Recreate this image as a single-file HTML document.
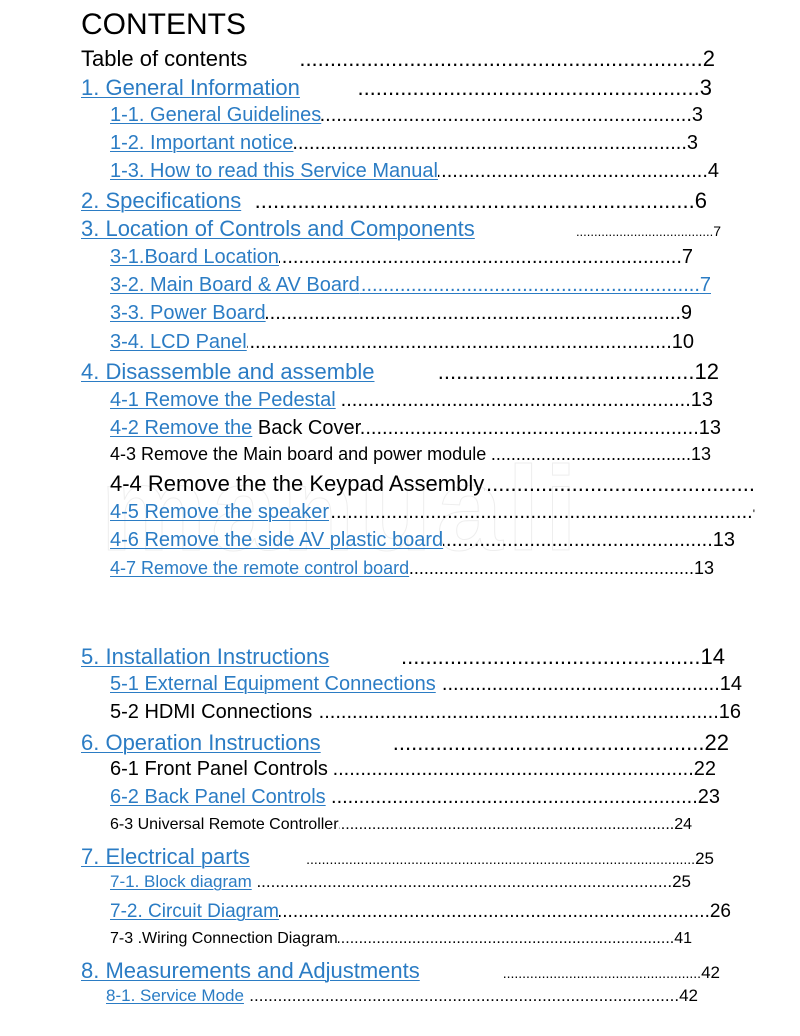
<!DOCTYPE html>
<html><head><meta charset="utf-8"><style>
html,body{margin:0;padding:0;background:#fff;}
body{width:800px;height:1036px;position:relative;overflow:hidden;font-family:"Liberation Sans",Arial,sans-serif;color:#000;}
.r{position:absolute;display:flex;align-items:baseline;white-space:nowrap;line-height:1.15;}
.r>span{flex:none;}
.b{color:#2b7cc4;text-decoration:underline;text-decoration-thickness:1px;text-underline-offset:2px;}
.r>.l{flex:1 1 0;min-width:0;overflow:hidden;direction:rtl;text-align:left;}
.w{display:inline-block;}
.wm{position:absolute;font-size:120px;color:transparent;-webkit-text-stroke:1px #eee;left:100px;top:440px;letter-spacing:4px;font-weight:bold;}
</style></head><body>
<div class="wm">manuali</div>
<div class="r" style="left:81px;top:8px;font-size:30px;">CONTENTS</div>

<div class="r" style="left:81px;top:46px;width:634px;font-size:22px;"><span class="w" style="width:217px">Table of contents</span><span class="l">........................................................................................................................</span><span>2</span></div>

<div class="r" style="left:81px;top:75px;width:631px;font-size:22px;"><span class="w" style="width:276px"><span class="b">1. General Information</span></span><span class="l">........................................................................................................................</span><span>3</span></div>

<div class="r" style="left:110px;top:104px;width:593px;font-size:20px;"><span class="b">1-1. General Guidelines</span><span class="l">........................................................................................................................</span><span>3</span></div>
<div class="r" style="left:110px;top:132px;width:588px;font-size:20px;"><span class="b">1-2. Important notice</span><span class="l">........................................................................................................................</span><span>3</span></div>
<div class="r" style="left:110px;top:160px;width:609px;font-size:20px;"><span class="b">1-3. How to read this Service Manual</span><span class="l">........................................................................................................................</span><span>4</span></div>

<div class="r" style="left:81px;top:188px;width:626px;font-size:22px;"><span class="w" style="width:174px"><span class="b">2. Specifications</span></span><span class="l">........................................................................................................................</span><span>6</span></div>
<div class="r" style="left:81px;top:216px;width:640px;font-size:22px;"><span class="w" style="width:494px"><span class="b">3. Location of Controls and Components</span></span><span class="l" style="font-size:13px">........................................................................................................................</span><span style="font-size:14px">7</span></div>

<div class="r" style="left:110px;top:246px;width:583px;font-size:20px;"><span class="b">3-1.Board Location</span><span class="l">........................................................................................................................</span><span>7</span></div>
<div class="r b" style="left:110px;top:274px;width:601px;font-size:20px;"><span>3-2. Main Board &amp; AV Board</span><span class="l">........................................................................................................................</span><span>7</span></div>
<div class="r" style="left:110px;top:302px;width:582px;font-size:20px;"><span class="b">3-3. Power Board</span><span class="l">........................................................................................................................</span><span>9</span></div>
<div class="r" style="left:110px;top:331px;width:584px;font-size:20px;"><span class="b">3-4. LCD Panel</span><span class="l">........................................................................................................................</span><span>10</span></div>

<div class="r" style="left:81px;top:359px;width:638px;font-size:22px;"><span class="w" style="width:356px"><span class="b">4. Disassemble and assemble</span></span><span class="l">........................................................................................................................</span><span>12</span></div>

<div class="r" style="left:110px;top:389px;width:603px;font-size:20px;"><span class="b">4-1 Remove the Pedestal</span><span>&nbsp;</span><span class="l">........................................................................................................................</span><span>13</span></div>
<div class="r" style="left:110px;top:417px;width:611px;font-size:20px;"><span><span class="b">4-2 Remove the</span> Back Cover</span><span class="l">........................................................................................................................</span><span>13</span></div>
<div class="r" style="left:110px;top:444px;width:601px;font-size:18px;"><span>4-3 Remove the Main board and power module&nbsp;</span><span class="l">........................................................................................................................</span><span>13</span></div>
<div class="r" style="left:110px;top:471px;width:645px;font-size:22px;"><span>4-4 Remove the the Keypad Assembly</span><span class="l">........................................................................................................................</span></div>
<div class="r" style="left:110px;top:501px;width:645px;font-size:20px;"><span class="b">4-5 Remove the speaker</span><span class="l">........................................................................................................................</span><span style="font-size:12px">'</span></div>
<div class="r" style="left:110px;top:529px;width:625px;font-size:20px;"><span class="b">4-6 Remove the side AV plastic board</span><span class="l">........................................................................................................................</span><span>13</span></div>
<div class="r" style="left:110px;top:558px;width:604px;font-size:18px;"><span class="b">4-7 Remove the remote control board</span><span class="l">........................................................................................................................</span><span>13</span></div>

<div class="r" style="left:81px;top:644px;width:644px;font-size:22px;"><span class="w" style="width:320px"><span class="b">5. Installation Instructions</span></span><span class="l">........................................................................................................................</span><span>14</span></div>
<div class="r" style="left:110px;top:673px;width:632px;font-size:20px;"><span class="b">5-1 External Equipment Connections</span><span>&nbsp;</span><span class="l">........................................................................................................................</span><span>14</span></div>
<div class="r" style="left:110px;top:701px;width:631px;font-size:20px;"><span>5-2 HDMI Connections&nbsp;</span><span class="l">........................................................................................................................</span><span>16</span></div>
<div class="r" style="left:81px;top:730px;width:648px;font-size:22px;"><span class="w" style="width:311px"><span class="b">6. Operation Instructions</span></span><span class="l">........................................................................................................................</span><span>22</span></div>
<div class="r" style="left:110px;top:758px;width:606px;font-size:20px;"><span>6-1 Front Panel Controls&nbsp;</span><span class="l">........................................................................................................................</span><span>22</span></div>
<div class="r" style="left:110px;top:786px;width:610px;font-size:20px;"><span class="b">6-2 Back Panel Controls</span><span>&nbsp;</span><span class="l">........................................................................................................................</span><span>23</span></div>
<div class="r" style="left:110px;top:816px;width:582px;font-size:16px;"><span>6-3 Universal Remote Controller</span><span class="l">........................................................................................................................</span><span>24</span></div>

<div class="r" style="left:81px;top:844px;width:633px;font-size:22px;"><span class="w" style="width:226px"><span class="b">7. Electrical parts</span></span><span class="l" style="font-size:14px">........................................................................................................................</span><span style="font-size:17px">25</span></div>
<div class="r" style="left:110px;top:872px;width:581px;font-size:17px;"><span class="b">7-1. Block diagram</span><span>&nbsp;</span><span class="l">........................................................................................................................</span><span>25</span></div>
<div class="r" style="left:110px;top:901px;width:621px;font-size:19px;"><span class="b">7-2. Circuit Diagram</span><span class="l">........................................................................................................................</span><span>26</span></div>
<div class="r" style="left:110px;top:930px;width:582px;font-size:16px;"><span>7-3 .Wiring Connection Diagram</span><span class="l">........................................................................................................................</span><span>41</span></div>

<div class="r" style="left:81px;top:958px;width:639px;font-size:22px;"><span class="w" style="width:421px"><span class="b">8. Measurements and Adjustments</span></span><span class="l" style="font-size:14px">........................................................................................................................</span><span style="font-size:17px">42</span></div>
<div class="r" style="left:106px;top:986px;width:592px;font-size:17px;"><span class="b">8-1. Service Mode</span><span>&nbsp;</span><span class="l">........................................................................................................................</span><span>42</span></div>
</body></html>
